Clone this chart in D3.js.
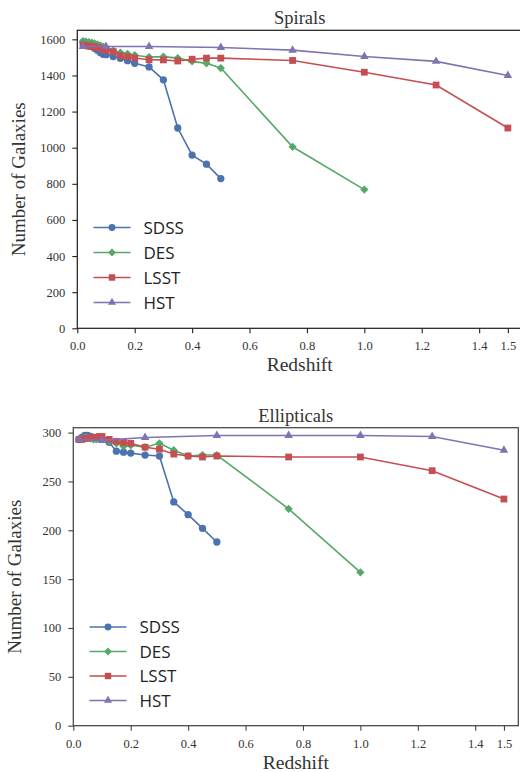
<!DOCTYPE html>
<html>
<head>
<meta charset="utf-8">
<script src="https://cdn.jsdelivr.net/npm/d3@7"></script>
<style>
  html, body { margin: 0; padding: 0; background: #fff; }
  svg { display: block; }
  .tick text { font-family: "Liberation Serif", "DejaVu Serif", serif; font-size: 12.5px; fill: #333; }
  .ttl { font-family: "Liberation Serif", "DejaVu Serif", serif; fill: #333; }
  .leg { font-family: "Open Sans", "DejaVu Sans", sans-serif; font-size: 17px; fill: #222; }
</style>
</head>
<body>
<svg id="fig" width="520" height="772"></svg>
<script>
// Redshift grids
const zLow = [0.02, 0.03, 0.04, 0.05, 0.06, 0.07, 0.08, 0.09, 0.1, 0.125, 0.15, 0.175, 0.2, 0.25, 0.3, 0.35, 0.4, 0.45, 0.5];
const zDES = zLow.concat([0.75, 1.0]);
const zLSST = zLow.concat([0.75, 1.0, 1.25, 1.5]);
const zHST = [0.02, 0.1, 0.25, 0.5, 0.75, 1.0, 1.25, 1.5];

// Spiral galaxy counts
const spiralSDSS = [1585, 1580, 1575, 1562, 1550, 1540, 1527, 1517, 1515, 1505, 1495, 1482, 1467, 1447, 1376, 1109, 959, 909, 829];
const spiralDES  = [1590, 1588, 1585, 1582, 1577, 1572, 1567, 1560, 1552, 1538, 1527, 1520, 1512, 1502, 1504, 1496, 1478, 1467, 1441, 1005, 768];
const spiralLSST = [1568, 1565, 1562, 1560, 1558, 1555, 1550, 1545, 1538, 1532, 1510, 1503, 1497, 1487, 1486, 1480, 1490, 1496, 1496, 1483, 1418, 1347, 1109];
const spiralHST  = [1560, 1560, 1560, 1555, 1540, 1505, 1478, 1400];

// Elliptical galaxy counts
const ellipSDSS = [293, 295, 297, 297, 296, 295, 294, 294, 293, 290, 281, 280, 279, 277, 276, 229, 216, 202, 188];
const ellipDES  = [293, 294, 295, 295, 294, 293, 293, 294, 294, 291, 289, 286, 287, 285, 289, 282, 276, 277, 277, 222, 157];
const ellipLSST = [293, 293, 294, 294, 295, 295, 295, 296, 296, 293, 291, 290, 289, 285, 283, 278, 276, 275, 276, 275, 275, 261, 232];
const ellipHST  = [293, 292, 295, 297, 297, 297, 296, 282];

const surveys = ["SDSS", "DES", "LSST", "HST"];
const colors = { SDSS: "#4C72B0", DES: "#55A868", LSST: "#C44E52", HST: "#8172B2" };
// the diamond is a square turned by 45 degrees
const symbols = { SDSS: d3.symbolCircle, DES: d3.symbolSquare, LSST: d3.symbolSquare, HST: d3.symbolTriangle };
const symRot = { SDSS: 0, DES: 45, LSST: 0, HST: 0 };
const symSize = { SDSS: 42, DES: 34, LSST: 46, HST: 32 };

const xTicks = [0, 0.2, 0.4, 0.6, 0.8, 1.0, 1.2, 1.4, 1.5];

const panels = [
  {
    title: "Spirals", yMax: 1650, yTicks: d3.range(0, 1601, 200),
    left: 77.3, right: 522.2, top: 30.3, bottom: 328.3,
    series: { SDSS: [zLow, spiralSDSS], DES: [zDES, spiralDES], LSST: [zLSST, spiralLSST], HST: [zHST, spiralHST] },
    spine: "#222", legendX: 93.5, legendY: 227.5, legendStep: 25
  },
  {
    title: "Ellipticals", yMax: 305, yTicks: d3.range(0, 301, 50),
    left: 73.3, right: 518.3, top: 427.7, bottom: 725.7,
    series: { SDSS: [zLow, ellipSDSS], DES: [zDES, ellipDES], LSST: [zLSST, ellipLSST], HST: [zHST, ellipHST] },
    spine: "#444", legendX: 89.5, legendY: 627, legendStep: 24.5
  }
];

const svg = d3.select("#fig");

panels.forEach(p => {
  const x = d3.scaleLinear().domain([0, 1.55]).range([p.left, p.right]);
  const y = d3.scaleLinear().domain([0, p.yMax]).range([p.bottom, p.top]);
  const g = svg.append("g");

  // axes
  const xa = g.append("g").attr("transform", `translate(0,${p.bottom})`)
    .call(d3.axisBottom(x).tickValues(xTicks).tickSize(5).tickPadding(8).tickFormat(d3.format(".1f")));
  const ya = g.append("g").attr("transform", `translate(${p.left},0)`)
    .call(d3.axisLeft(y).tickValues(p.yTicks).tickSize(5).tickPadding(7).tickFormat(d3.format("d")));
  [xa, ya].forEach(a => {
    a.select(".domain").remove();
    a.selectAll(".tick line").attr("stroke", p.spine).attr("stroke-width", 1.1);
  });

  // spines
  g.append("rect").attr("x", p.left).attr("y", p.top)
    .attr("width", p.right - p.left).attr("height", p.bottom - p.top)
    .attr("fill", "none").attr("stroke", p.spine).attr("stroke-width", 1.25);

  // series
  const line = d3.line().x(d => x(d[0])).y(d => y(d[1]));
  surveys.forEach(s => {
    const [zs, vs] = p.series[s];
    const pts = zs.map((z, i) => [z, vs[i]]);
    g.append("path").datum(pts).attr("d", line)
      .attr("fill", "none").attr("stroke", colors[s]).attr("stroke-width", 1.6);
    g.selectAll(null).data(pts).enter().append("path")
      .attr("d", d3.symbol().type(symbols[s]).size(symSize[s]))
      .attr("transform", d => `translate(${x(d[0])},${y(d[1])}) rotate(${symRot[s]})`)
      .attr("fill", colors[s]);
  });

  // legend
  surveys.forEach((s, i) => {
    const ly = p.legendY + i * p.legendStep;
    g.append("line").attr("x1", p.legendX).attr("x2", p.legendX + 37)
      .attr("y1", ly).attr("y2", ly).attr("stroke", colors[s]).attr("stroke-width", 1.6);
    g.append("path").attr("d", d3.symbol().type(symbols[s]).size(symSize[s] * 0.9))
      .attr("transform", `translate(${p.legendX + 18.5},${ly}) rotate(${symRot[s]})`).attr("fill", colors[s]);
    g.append("text").attr("class", "leg").attr("x", p.legendX + 50).attr("y", ly + 6)
      .text(s);
  });

  // titles and axis labels
  const cx = (p.left + Math.min(p.right, 522)) / 2;
  g.append("text").attr("class", "ttl").attr("x", cx).attr("y", p.top - 6)
    .attr("text-anchor", "middle").attr("font-size", 18.5).text(p.title);
  g.append("text").attr("class", "ttl").attr("x", (p.left + p.right) / 2).attr("y", p.bottom + 43)
    .attr("text-anchor", "middle").attr("font-size", 19.5).text("Redshift");
  g.append("text").attr("class", "ttl")
    .attr("transform", `translate(${p.left - 52},${(p.top + p.bottom) / 2}) rotate(-90)`)
    .attr("text-anchor", "middle").attr("font-size", 19).text("Number of Galaxies");
});
</script>
</body>
</html>
